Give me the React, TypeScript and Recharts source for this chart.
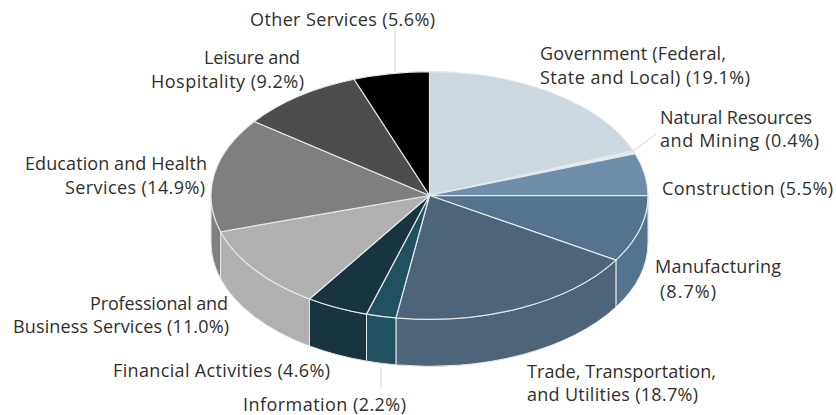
import { PieChart, Pie } from "recharts";

const sectors = [
  "Government",
  "Natural Resources and Mining",
  "Construction",
  "Manufacturing",
  "Trade, Transportation, and Utilities",
  "Information",
  "Financial Activities",
  "Professional and Business Services",
  "Education and Health Services",
  "Leisure and Hospitality",
  "Other Services",
];
const shares = [19.1, 0.4, 5.5, 8.7, 18.7, 2.2, 4.6, 11.0, 14.9, 9.2, 5.6];
const colors = [
  "#cdd7df", "#e2e8ec", "#6f8da8", "#55728f", "#4e6479", "#21505e",
  "#17343f", "#b0b0b0", "#7f7f7f", "#4d4d4d", "#000000",
];
const labelLines = [
  ["Government (Federal,", "State and Local) (19.1%)"],
  ["Natural Resources", "and Mining (0.4%)"],
  ["Construction (5.5%)"],
  ["Manufacturing", "(8.7%)"],
  ["Trade, Transportation,", "and Utilities (18.7%)"],
  ["Information (2.2%)"],
  ["Financial Activities (4.6%)"],
  ["Professional and", "Business Services (11.0%)"],
  ["Education and Health", "Services (14.9%)"],
  ["Leisure and", "Hospitality (9.2%)"],
  ["Other Services (5.6%)"],
];

// where each label line sits: [left x, baseline, width]
const labelSpots: [number, number, number][][] = [
  [[540, 60, 186], [540, 84, 210]],
  [[660, 124, 152], [660, 147, 159]],
  [[662, 195, 171]],
  [[655, 273, 126], [660, 298, 56]],
  [[527, 378, 189], [527, 401, 171]],
  [[243, 411, 163]],
  [[113, 377, 217]],
  [[90, 310, 138], [13, 333, 216]],
  [[25, 170, 182], [65, 194, 140]],
  [[204, 64, 96], [151, 88, 153]],
  [[250, 26, 185]],
];
// leader lines for the labels that sit away from their slice
const leaders: Record<number, [number, number, number, number]> = {
  1: [632, 152, 656, 134],
  5: [381, 367, 381, 388],
  10: [395, 30, 395, 72],
};

const data = sectors.map((name, i) => ({ name, value: shares[i], fill: colors[i] }));

const TILT = 0.567;
const DEPTH = 47;
const EDGE = "#e4e8ea";

function PieSlice(props: any) {
  const { cx, cy, outerRadius: rx, startAngle, endAngle, fill } = props;
  const ry = rx * TILT;
  const pt = (deg: number, dy = 0) => {
    const a = (deg * Math.PI) / 180;
    return `${cx + rx * Math.cos(a)} ${cy - ry * Math.sin(a) + dy}`;
  };
  const top = `M ${cx} ${cy} L ${pt(startAngle)} A ${rx} ${ry} 0 0 1 ${pt(endAngle)} Z`;
  // only the part of the rim in front of the centre gets a side wall
  const hi = Math.min(startAngle, 0);
  const lo = Math.max(endAngle, -180);
  const hasWall = hi > lo;
  return (
    <g>
      {hasWall && (
        <path
          d={`M ${pt(hi)} A ${rx} ${ry} 0 0 1 ${pt(lo)} L ${pt(lo, DEPTH)} A ${rx} ${ry} 0 0 0 ${pt(hi, DEPTH)} Z`}
          fill={fill}
          stroke={EDGE}
          strokeWidth={1}
        />
      )}
      <path d={top} fill={fill} stroke={EDGE} strokeWidth={1.2} strokeLinejoin="round" />
    </g>
  );
}

function SliceLabel({ index }: any) {
  const spot = labelSpots[index];
  const leader = leaders[index];
  return (
    <g>
      {leader && (
        <line x1={leader[0]} y1={leader[1]} x2={leader[2]} y2={leader[3]} stroke="#cfd4d8" strokeWidth={1} />
      )}
      {labelLines[index].map((line, i) => (
        <text
          key={i}
          x={spot[i][0]}
          y={spot[i][1]}
          textLength={spot[i][2]}
          lengthAdjust="spacing"
          fontFamily="'Open Sans', sans-serif"
          fontSize={18}
          fill="#2f2f2f"
        >
          {line}
        </text>
      ))}
    </g>
  );
}

export default function App() {
  return (
    <div style={{ position: "absolute", left: 0, top: 0, width: 836, height: 415, background: "#fff" }}>
      <PieChart width={836} height={415} margin={{ top: 0, right: 0, bottom: 0, left: 0 }}>
        <Pie
          data={data}
          dataKey="value"
          nameKey="name"
          cx={429.5}
          cy={195.5}
          outerRadius={218.5}
          startAngle={90}
          endAngle={-270}
          shape={PieSlice}
          label={SliceLabel}
          labelLine={false}
          isAnimationActive={false}
        />
      </PieChart>
    </div>
  );
}
